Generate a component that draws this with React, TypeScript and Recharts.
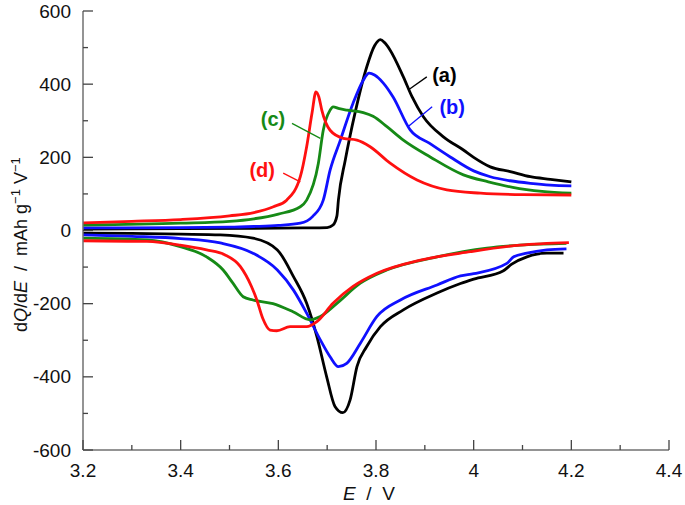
import React from "react";
import {
  LineChart,
  Line,
  XAxis,
  YAxis,
  ReferenceLine,
  ReferenceDot,
} from "recharts";

// E (V) vs dQ/dE (mAh g-1 V-1), charge branch (upper) and discharge branch (lower)
const aCharge = [
  [3.2, 4], [3.4, 5], [3.55, 6], [3.65, 7], [3.7, 8], [3.712, 15], [3.72, 40],
  [3.723, 83], [3.737, 192], [3.757, 321], [3.781, 447], [3.797, 505], [3.809, 522],
  [3.818, 513], [3.829, 493], [3.856, 420], [3.874, 365], [3.897, 311], [3.938, 256],
  [3.979, 220], [4.0, 200], [4.034, 174], [4.075, 161], [4.116, 147], [4.157, 140], [4.2, 133],
];
const aDischarge = [
  [3.2, -7], [3.3, -8], [3.4, -10], [3.481, -12], [3.548, -21], [3.598, -53],
  [3.631, -126], [3.658, -199], [3.679, -290], [3.699, -400], [3.716, -481],
  [3.732, -498], [3.747, -463], [3.761, -372], [3.781, -317], [3.809, -263],
  [3.856, -217], [3.925, -171], [3.973, -145], [4.0, -133], [4.061, -110],
  [4.078, -92], [4.109, -72], [4.15, -62], [4.184, -62],
];
const bCharge = [
  [3.2, 7], [3.4, 8], [3.5, 9], [3.55, 11], [3.6, 14], [3.645, 20], [3.67, 38],
  [3.692, 83], [3.706, 165], [3.727, 247], [3.753, 348], [3.774, 411], [3.786, 430],
  [3.797, 425], [3.815, 403], [3.835, 365], [3.87, 275], [3.91, 238], [3.952, 201],
  [4.0, 163], [4.034, 147], [4.075, 136], [4.116, 129], [4.157, 124], [4.2, 122],
];
const bDischarge = [
  [3.2, -12], [3.3, -16], [3.4, -22], [3.481, -34], [3.548, -62], [3.598, -108],
  [3.631, -163], [3.658, -226], [3.686, -299], [3.706, -345], [3.723, -372],
  [3.74, -363], [3.768, -308], [3.802, -235], [3.85, -190], [3.925, -149],
  [3.973, -124], [4.0, -118], [4.068, -90], [4.082, -72], [4.109, -62], [4.15, -53], [4.19, -50],
];
const cCharge = [
  [3.2, 15], [3.4, 20], [3.5, 25], [3.55, 32], [3.6, 45], [3.645, 65], [3.658, 83],
  [3.682, 184], [3.692, 274], [3.706, 329], [3.712, 338], [3.725, 333], [3.741, 329],
  [3.774, 322], [3.794, 312], [3.823, 283], [3.856, 247], [3.911, 201], [3.979, 152],
  [4.03, 133], [4.08, 118], [4.14, 107], [4.2, 102],
];
const cDischarge = [
  [3.2, -21], [3.331, -26], [3.399, -44], [3.453, -72], [3.487, -108], [3.507, -144],
  [3.528, -181], [3.548, -190], [3.589, -200], [3.63, -222], [3.665, -244],
  [3.686, -235], [3.72, -199], [3.768, -144], [3.822, -108], [3.925, -72],
  [4.027, -48], [4.095, -40], [4.19, -35],
];
const dCharge = [
  [3.2, 21], [3.3, 25], [3.4, 30], [3.5, 40], [3.55, 49], [3.59, 65], [3.617, 83],
  [3.645, 147], [3.658, 229], [3.669, 321], [3.677, 379], [3.683, 365], [3.689, 329],
  [3.706, 274], [3.733, 252], [3.761, 247], [3.788, 229], [3.829, 184], [3.884, 138],
  [3.945, 111], [4.014, 102], [4.1, 98], [4.2, 97],
];
const dDischarge = [
  [3.2, -28], [3.331, -30], [3.399, -40], [3.453, -53], [3.49, -66],
  [3.522, -98], [3.545, -153], [3.556, -190], [3.568, -240], [3.583, -272],
  [3.597, -274], [3.624, -263], [3.658, -263], [3.679, -249], [3.712, -199],
  [3.753, -153], [3.802, -117], [3.891, -81], [3.993, -58], [4.095, -40], [4.195, -33],
];

const xMajor = [3.2, 3.4, 3.6, 3.8, 4.0, 4.2, 4.4];
const xMinor = [3.3, 3.5, 3.7, 3.9, 4.1, 4.3];
const yMajor = [-600, -400, -200, 0, 200, 400, 600];
const yMinor = [-500, -300, -100, 100, 300, 500];

const FONT = "'Liberation Sans', Arial, sans-serif";
const AXIS = "#707070";

const toRows = (pts: number[][]) => pts.map(([e, q]) => ({ e, q }));

const isMajor = (v: number, list: number[]) => list.some((m) => Math.abs(m - v) < 1e-6);
const fmt = (v: number) => String(Number(v.toFixed(1)));

const BottomTick = (props: any) => {
  const { x, y, payload } = props;
  const major = isMajor(payload.value, xMajor);
  return (
    <g>
      <line x1={x} y1={y} x2={x} y2={y - (major ? 10 : 5)} stroke="#444" strokeWidth={1.3} />
      {major && (
        <text x={x} y={y + 27} textAnchor="middle" fontSize={19} fontFamily={FONT} fill="#111">
          {fmt(payload.value)}
        </text>
      )}
    </g>
  );
};

const TopTick = (props: any) => {
  const { x, y, payload } = props;
  const major = isMajor(payload.value, xMajor);
  return <line x1={x} y1={y} x2={x} y2={y + (major ? 10 : 5)} stroke="#444" strokeWidth={1.3} />;
};

const LeftTick = (props: any) => {
  const { x, y, payload } = props;
  const major = isMajor(payload.value, yMajor);
  return (
    <g>
      <line x1={x} y1={y} x2={x + (major ? 10 : 5)} y2={y} stroke="#444" strokeWidth={1.3} />
      {major && (
        <text x={x - 12} y={y + 6.5} textAnchor="end" fontSize={19} fontFamily={FONT} fill="#111">
          {payload.value}
        </text>
      )}
    </g>
  );
};

const RightTick = (props: any) => {
  const { x, y, payload } = props;
  const major = isMajor(payload.value, yMajor);
  return <line x1={x} y1={y} x2={x - (major ? 10 : 5)} y2={y} stroke="#444" strokeWidth={1.3} />;
};

const YTitle = () => (
  <text
    x={27}
    y={332}
    transform="rotate(-90, 27, 332)"
    textAnchor="start"
    fontSize={18}
    fontFamily={FONT}
    fill="#111"
  >
    d<tspan fontStyle="italic">Q</tspan>/d<tspan fontStyle="italic">E</tspan>
    {"\u00a0 /\u00a0 mAh g"}
    <tspan dy={-7} fontSize={13}>−1</tspan>
    <tspan dy={7}>{"\u00a0V"}</tspan>
    <tspan dy={-7} fontSize={13}>−1</tspan>
  </text>
);

const XTitle = () => (
  <text x={369} y={500} textAnchor="middle" fontSize={19} fontFamily={FONT} fill="#111">
    <tspan fontStyle="italic">E</tspan>
    {"\u00a0 /\u00a0 V"}
  </text>
);

const series = [
  { key: "aC", pts: aCharge, color: "#000000" },
  { key: "aD", pts: aDischarge, color: "#000000" },
  { key: "bC", pts: bCharge, color: "#1010ff" },
  { key: "bD", pts: bDischarge, color: "#1010ff" },
  { key: "cC", pts: cCharge, color: "#168a16" },
  { key: "cD", pts: cDischarge, color: "#168a16" },
  { key: "dC", pts: dCharge, color: "#ff1010" },
  { key: "dD", pts: dDischarge, color: "#ff1010" },
];

const labels = [
  { text: "(a)", x: 3.94, y: 425, color: "#000000", from: [3.904, 420], to: [3.866, 384] },
  { text: "(b)", x: 3.956, y: 337, color: "#1010ff", from: [3.915, 338], to: [3.866, 284] },
  { text: "(c)", x: 3.589, y: 305, color: "#168a16", from: [3.628, 293], to: [3.686, 252] },
  { text: "(d)", x: 3.567, y: 165, color: "#ff1010", from: [3.61, 157], to: [3.645, 133] },
];

export default function App() {
  return (
    <div style={{ position: "absolute", left: 0, top: 0, fontFamily: FONT, background: "#fff" }}>
      <LineChart width={685} height={505} margin={{ top: 11, right: 16, bottom: 0, left: 0 }}>
        <XAxis
          xAxisId="b"
          dataKey="e"
          type="number"
          domain={[3.2, 4.4]}
          ticks={[...xMajor, ...xMinor].sort((p, q) => p - q)}
          interval={0}
          height={55}
          tickSize={0}
          tickMargin={0}
          tickLine={false}
          axisLine={{ stroke: AXIS, strokeWidth: 1.5 }}
          tick={<BottomTick />}
          allowDataOverflow
        />
        <XAxis
          xAxisId="t"
          orientation="top"
          dataKey="e"
          type="number"
          domain={[3.2, 4.4]}
          ticks={[...xMajor, ...xMinor].sort((p, q) => p - q)}
          interval={0}
          height={0}
          tickSize={0}
          tickMargin={0}
          tickLine={false}
          axisLine={{ stroke: AXIS, strokeWidth: 1.5 }}
          tick={<TopTick />}
          allowDataOverflow
        />
        <YAxis
          yAxisId="l"
          type="number"
          domain={[-600, 600]}
          ticks={[...yMajor, ...yMinor].sort((p, q) => p - q)}
          interval={0}
          width={83}
          tickSize={0}
          tickMargin={0}
          tickLine={false}
          axisLine={{ stroke: AXIS, strokeWidth: 1.5 }}
          tick={<LeftTick />}
          allowDataOverflow
        />
        <YAxis
          yAxisId="r"
          orientation="right"
          type="number"
          domain={[-600, 600]}
          ticks={[...yMajor, ...yMinor].sort((p, q) => p - q)}
          interval={0}
          width={0}
          tickSize={0}
          tickMargin={0}
          tickLine={false}
          axisLine={{ stroke: AXIS, strokeWidth: 1.5 }}
          tick={<RightTick />}
          allowDataOverflow
        />
        {series.map((s) => (
          <Line
            key={s.key}
            xAxisId="b"
            yAxisId="l"
            data={toRows(s.pts)}
            dataKey="q"
            type="monotone"
            stroke={s.color}
            strokeWidth={2.8}
            dot={false}
            activeDot={false}
            isAnimationActive={false}
          />
        ))}
        {labels.map((l) => (
          <ReferenceLine
            key={"p" + l.text}
            xAxisId="b"
            yAxisId="l"
            segment={[
              { x: l.from[0], y: l.from[1] },
              { x: l.to[0], y: l.to[1] },
            ]}
            stroke={l.color}
            strokeWidth={1.3}
          />
        ))}
        {labels.map((l) => (
          <ReferenceDot
            key={"t" + l.text}
            xAxisId="b"
            yAxisId="l"
            x={l.x}
            y={l.y}
            r={0}
            fill="none"
            stroke="none"
            label={{
              value: l.text,
              position: "center",
              fill: l.color,
              fontSize: 20,
              fontWeight: "bold",
              fontFamily: FONT,
            }}
          />
        ))}
        <YTitle />
        <XTitle />
      </LineChart>
    </div>
  );
}
